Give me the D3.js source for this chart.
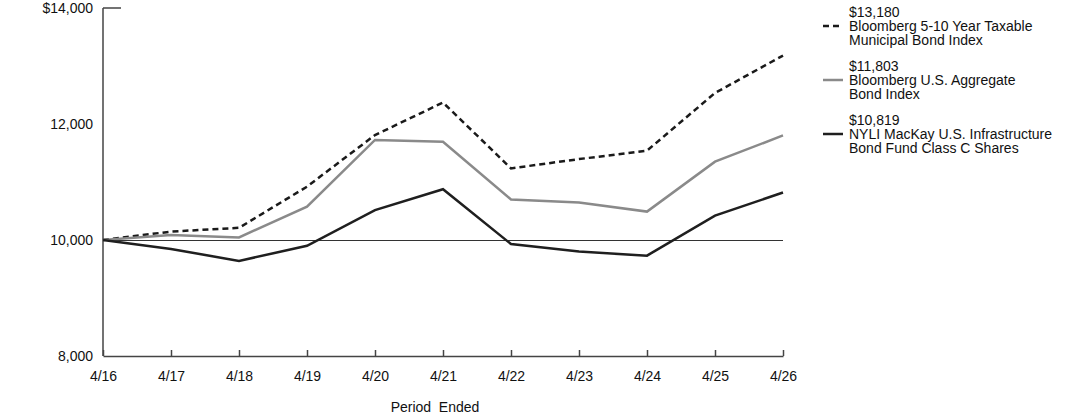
<!DOCTYPE html>
<html>
<head>
<meta charset="utf-8">
<script src="https://cdn.jsdelivr.net/npm/d3@7"></script>
<style>
  body { margin: 0; background: #fff; }
  text { font-family: "Liberation Sans", Arial, sans-serif; font-size: 14px; fill: #111; }
</style>
</head>
<body>
<div id="chart"></div>
<script>
const periods = ["4/16", "4/17", "4/18", "4/19", "4/20", "4/21", "4/22", "4/23", "4/24", "4/25", "4/26"];
const muniIndex = [10000, 10145, 10210, 10920, 11810, 12370, 11235, 11395, 11540, 12535, 13180];
const aggIndex = [10000, 10085, 10045, 10575, 11725, 11695, 10700, 10645, 10490, 11350, 11803];
const fund = [10000, 9845, 9640, 9900, 10515, 10875, 9930, 9800, 9730, 10420, 10819];
const yTicks = [8000, 10000, 12000, 14000];

const width = 1092;
const height = 417;

const series = [
  {value: "$13,180", name: ["Bloomberg 5-10 Year Taxable", "Municipal Bond Index"], data: muniIndex, color: "#1a1a1a", dash: "6,4"},
  {value: "$11,803", name: ["Bloomberg U.S. Aggregate", "Bond Index"], data: aggIndex, color: "#8a8a8a", dash: null},
  {value: "$10,819", name: ["NYLI MacKay U.S. Infrastructure", "Bond Fund Class C Shares"], data: fund, color: "#1f1f1f", dash: null}
];

const svg = d3.select("#chart")
    .append("svg")
    .attr("width", width)
    .attr("height", height);

const x = d3.scalePoint()
    .domain(periods)
    .range([103, 783]);

const y = d3.scaleLinear()
    .domain([8000, 14000])
    .range([356, 8]);

// 10,000 baseline
svg.append("line")
    .attr("x1", x(periods[0]))
    .attr("x2", x(periods[periods.length - 1]))
    .attr("y1", y(10000) + 0.5)
    .attr("y2", y(10000) + 0.5)
    .attr("stroke", "#333")
    .attr("stroke-width", 1);

// y axis
svg.append("line")
    .attr("x1", 103).attr("x2", 103)
    .attr("y1", y(14000)).attr("y2", y(8000))
    .attr("stroke", "#444")
    .attr("stroke-width", 1.5);

svg.append("line")
    .attr("x1", 103).attr("x2", 121)
    .attr("y1", y(14000)).attr("y2", y(14000))
    .attr("stroke", "#444")
    .attr("stroke-width", 1.5);

svg.selectAll(".ylab")
    .data(yTicks)
    .enter()
    .append("text")
    .attr("class", "ylab")
    .attr("x", 93)
    .attr("y", d => y(d))
    .attr("dy", "0.35em")
    .attr("text-anchor", "end")
    .text(d => (d === 14000 ? "$" : "") + d3.format(",")(d));

// x axis with inward ticks
const xAxis = svg.append("g")
    .attr("transform", `translate(0, ${y(8000)})`)
    .call(d3.axisBottom(x).tickSize(-6).tickSizeOuter(0).tickPadding(15));

xAxis.select(".domain").attr("stroke", "#444").attr("stroke-width", 1.5);
xAxis.selectAll(".tick line").attr("stroke", "#444").attr("stroke-width", 1.5);
xAxis.selectAll(".tick text")
    .attr("font-family", "Liberation Sans, Arial, sans-serif")
    .attr("font-size", 14)
    .attr("fill", "#111");

svg.append("text")
    .attr("x", 435)
    .attr("y", 407)
    .attr("dy", "0.35em")
    .attr("text-anchor", "middle")
    .style("white-space", "pre")
    .text("Period  Ended");

// lines
const line = d3.line()
    .x((d, i) => x(periods[i]))
    .y(d => y(d));

svg.selectAll(".series")
    .data(series)
    .enter()
    .append("path")
    .attr("class", "series")
    .attr("d", d => line(d.data))
    .attr("fill", "none")
    .attr("stroke", d => d.color)
    .attr("stroke-width", 2.5)
    .attr("stroke-dasharray", d => d.dash);

// legend
const legend = svg.selectAll(".legend")
    .data(series)
    .enter()
    .append("g")
    .attr("class", "legend")
    .attr("transform", (d, i) => `translate(823, ${12 + i * 54})`);

legend.append("line")
    .attr("x1", 0).attr("x2", 20)
    .attr("y1", 14).attr("y2", 14)
    .attr("stroke", d => d.color)
    .attr("stroke-width", 2.5)
    .attr("stroke-dasharray", d => d.dash ? "6,4" : null);

legend.append("text")
    .attr("x", 26)
    .attr("y", 0)
    .attr("dy", "0.35em")
    .text(d => d.value);

legend.each(function(d) {
  d3.select(this).selectAll(".nm")
      .data(d.name)
      .enter()
      .append("text")
      .attr("class", "nm")
      .attr("x", 26)
      .attr("y", (t, j) => 14 + j * 14)
      .attr("dy", "0.35em")
      .text(t => t);
});
</script>
</body>
</html>
